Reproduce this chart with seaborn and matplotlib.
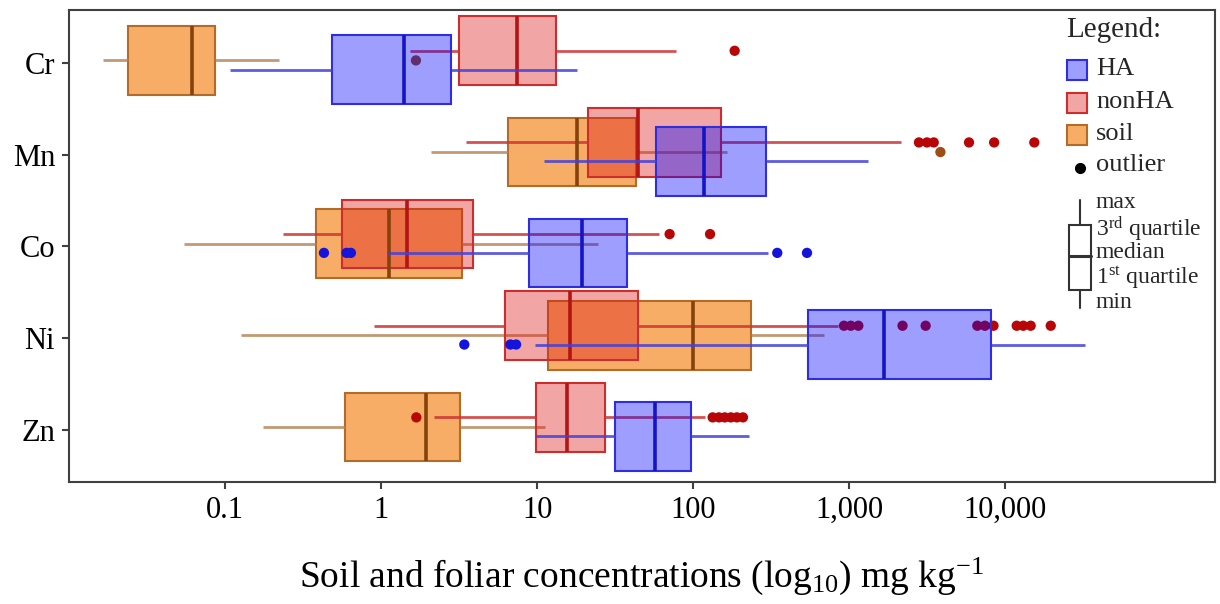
import matplotlib
matplotlib.use('Agg')

import matplotlib.pyplot as plt
from matplotlib.patches import Rectangle
from matplotlib.lines import Line2D
from matplotlib.ticker import NullLocator
import seaborn as sns
import pandas as pd

# categories
elements = ['Cr', 'Mn', 'Co', 'Ni', 'Zn']

# five-number summaries: min, q1, median, q3, max (mg/kg)
ha_box = [
    [0.107, 0.487, 1.41, 2.81, 18.1],
    [11.1, 57.6, 117, 292, 1310],
    [1.10, 8.82, 19.4, 37.4, 300],
    [9.70, 545, 1670, 8020, 32500],
    [9.88, 31.3, 56.8, 96.1, 227],
]
nonha_box = [
    [1.54, 3.17, 7.43, 13.1, 77],
    [3.51, 21.2, 44.5, 150, 2140],
    [0.236, 0.562, 1.46, 3.88, 60],
    [0.90, 6.18, 16.1, 44.2, 845],
    [2.17, 9.77, 15.4, 27.1, 118],
]
soil_box = [
    [0.0165, 0.0239, 0.061, 0.086, 0.221],
    [2.10, 6.51, 18.0, 42.9, 164],
    [0.0544, 0.383, 1.13, 3.30, 24.5],
    [0.127, 11.7, 99, 234, 686],
    [0.175, 0.585, 1.94, 3.19, 11.2],
]

# outliers per element
ha_out = [[], [], [0.43, 0.60, 0.64, 345, 535], [3.41, 6.73, 7.32], []]
nonha_out = [
    [184],
    [2790, 3140, 3470, 5840, 8460, 15300],
    [70.5, 128],
    [923, 1021, 1141, 2190, 3080, 6600, 7380, 8380, 11800, 13000, 14500, 19500],
    [1.68, 133, 146, 159, 174, 190, 208],
]
soil_out = [[1.67], [3830], [], [], []]

xticks = [0.1, 1, 10, 100, 1000, 10000]
xticklabels = ['0.1', '1', '10', '100', '1,000', '10,000']

# looks
styles = {
    'HA': dict(offset=0.07, fill=(0.0, 0.0, 1.0, 0.38), edge=(0.18, 0.18, 0.87),
               median=(0.08, 0.08, 0.78), whisker=(0.25, 0.25, 0.85, 0.85),
               dot=(0.08, 0.08, 0.86)),
    'nonHA': dict(offset=-0.135, fill=(0.86, 0.08, 0.08, 0.38), edge=(0.80, 0.18, 0.18),
                  median=(0.70, 0.08, 0.08), whisker=(0.80, 0.20, 0.20, 0.85),
                  dot=(0.72, 0.02, 0.02)),
    'soil': dict(offset=-0.03, fill=(0.96, 0.51, 0.08, 0.65), edge=(0.70, 0.42, 0.16),
                 median=(0.52, 0.26, 0.04), whisker=(0.70, 0.50, 0.32, 0.8),
                 dot=(0.62, 0.30, 0.08)),
}


def long_frame(stats, offset):
    rows = []
    for i, s in enumerate(stats):
        for v in s:
            rows.append({'pos': i + offset, 'value': v})
    return pd.DataFrame(rows)


def draw_box(ax, stats, name, zorder=2):
    st = styles[name]
    df = long_frame(stats, st['offset'])
    sns.boxplot(data=df, x='value', y='pos', orient='y', native_scale=True,
                log_scale=(True, False), whis=(0, 100), showfliers=False,
                width=0.75, saturation=1, ax=ax, zorder=zorder,
                boxprops=dict(facecolor=st['fill'], edgecolor=st['edge'], linewidth=1.5),
                medianprops=dict(color=st['median'], linewidth=2.6),
                whiskerprops=dict(color=st['whisker'], linewidth=2),
                capprops=dict(visible=False))


def draw_dots(ax, outs, name):
    st = styles[name]
    xs, ys = [], []
    for i, vals in enumerate(outs):
        for v in vals:
            xs.append(v)
            ys.append(i + st['offset'])
    if xs:
        sns.scatterplot(x=xs, y=ys, color=st['dot'], s=55, edgecolor='none',
                        ax=ax, zorder=2.2, legend=False)


sns.set_theme(style='white')
plt.rcParams['font.family'] = ['Liberation Serif', 'DejaVu Serif']
plt.rcParams['mathtext.fontset'] = 'custom'
plt.rcParams['mathtext.rm'] = 'Liberation Serif'
plt.rcParams['mathtext.it'] = 'Liberation Serif:italic'

W, H = 1220, 604
fig = plt.figure(figsize=(W / 100, H / 100), dpi=100)
ax = fig.add_axes([69 / W, 1 - 482 / H, (1215 - 69) / W, (482 - 10) / H])

draw_box(ax, soil_box, 'soil')
draw_box(ax, nonha_box, 'nonHA')
draw_dots(ax, soil_out, 'soil')
draw_dots(ax, nonha_out, 'nonHA')
draw_dots(ax, ha_out, 'HA')
draw_box(ax, ha_box, 'HA', zorder=3)

ax.set_xscale('log')
ax.set_xlim(0.01, 2.2e5)
ax.set_ylim(4.57, -0.58)
ax.set_xticks(xticks, xticklabels)
ax.xaxis.set_minor_locator(NullLocator())
ax.set_yticks(range(len(elements)), elements)
ax.tick_params(axis='both', bottom=True, left=True, length=5, width=1.5,
               color='#404040', labelsize=22, labelcolor='black', pad=5)
for sp in ax.spines.values():
    sp.set_color('#404040')
    sp.set_linewidth(1.5)
ax.set_ylabel('')
ax.set_xlabel('Soil and foliar concentrations (log$_{10}$) mg kg$^{-1}$',
              fontsize=27, labelpad=22, color='black')


# legend, laid out in figure pixels
def px(x, y):
    return (x / W, 1 - y / H)


fs = 19
fig.text(*px(1066, 30), 'Legend:', fontsize=21, va='center', ha='left')
for name, y in [('HA', 70), ('nonHA', 103), ('soil', 135)]:
    st = styles[name]
    x0, y0 = px(1067, y + 10)
    fig.add_artist(Rectangle((x0, y0), 20 / W, 20 / H, facecolor=st['fill'],
                             edgecolor=st['edge'], linewidth=1.5,
                             transform=fig.transFigure))
    fig.text(*px(1096, y - 1), name, fontsize=fs, va='center', ha='left')

fig.add_artist(Line2D([1080 / W], [1 - 168 / H], marker='o', markersize=7,
                      color='black', transform=fig.transFigure))
fig.text(*px(1096, 165), 'outlier', fontsize=fs, va='center', ha='left')

gc = '#333333'
for xa, ya, xb, yb, lw in [(1080, 200, 1080, 225, 1.5), (1080, 290, 1080, 308, 1.5),
                           (1069, 256, 1091, 256, 2.2)]:
    fig.add_artist(Line2D([xa / W, xb / W], [1 - ya / H, 1 - yb / H], color=gc,
                          linewidth=lw, transform=fig.transFigure))
bx, by = px(1069, 290)
fig.add_artist(Rectangle((bx, by), 22 / W, 65 / H, facecolor='none', edgecolor=gc,
                         linewidth=1.5, transform=fig.transFigure))

fs2 = 17
for lab, y in [('max', 203), ('3$^{\\mathrm{rd}}$ quartile', 229), ('median', 252),
               ('1$^{\\mathrm{st}}$ quartile', 278), ('min', 302)]:
    fig.text(*px(1096, y), lab, fontsize=fs2, va='center', ha='left')

fig.savefig('out.png', dpi=100)
